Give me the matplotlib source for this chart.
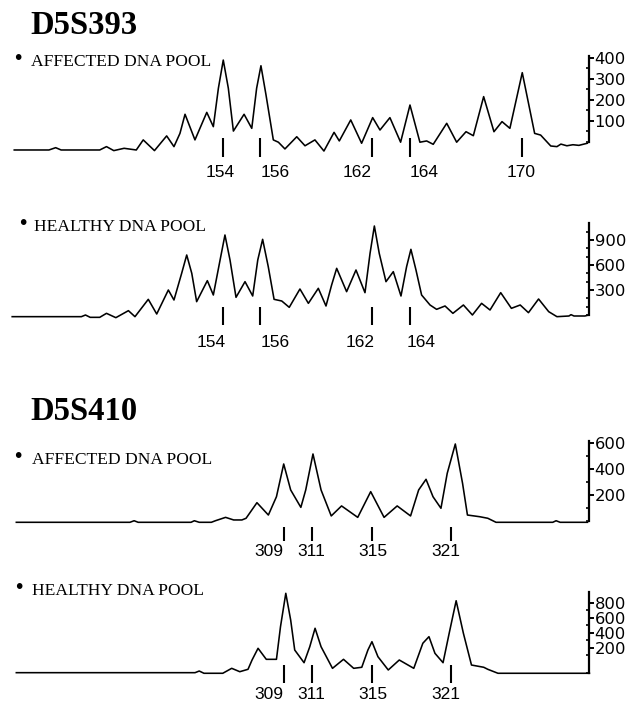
import matplotlib
matplotlib.use("Agg")
import matplotlib.pyplot as plt
from matplotlib.ticker import FixedLocator, NullFormatter

# ---------------- data ----------------
# D5S393 affected pool: fragment size (bp) and signal
d393_aff_bp = [142.89, 144.74, 145.10, 145.39, 147.45, 147.81, 148.20, 148.75, 149.40, 149.77,
               150.37, 151.02, 151.41, 151.73, 152.00, 152.53, 153.16, 153.51, 153.78, 154.04,
               154.31, 154.58, 155.15, 155.56, 155.82, 156.05, 156.32, 156.71, 156.98, 157.33,
               157.96, 158.40, 158.93, 159.41, 159.95, 160.23, 160.84, 161.42, 162.01, 162.40,
               162.93, 163.50, 164.00, 164.53, 164.89, 165.24, 165.96, 166.49, 166.99, 167.38,
               167.93, 168.48, 168.91, 169.33, 169.99, 170.65, 170.97, 171.51, 171.84, 172.05,
               172.37, 172.69, 173.01, 173.46]
d393_aff_sig = [-38, -38, -27, -38, -38, -22, -41, -30, -38, 10,
                -41, 29, -22, 41, 132, 10, 141, 73, 256, 390,
                256, 52, 132, 65, 256, 363, 224, 10, -1, -33,
                25, -18, 10, -43, 46, 5, 105, -6, 116, 57,
                116, -1, 176, -1, 5, -11, 89, -1, 49, 30,
                216, 49, 97, 65, 330, 41, 33, -19, -22, -10,
                -18, -13, -16, -6]

# D5S393 healthy pool
d393_hea_bp = [142.78, 146.47, 146.69, 146.94, 147.45, 147.81, 148.31, 148.98, 149.33, 150.04,
               150.49, 151.11, 151.41, 151.82, 152.09, 152.36, 152.62, 153.19, 153.51, 153.87,
               154.13, 154.40, 154.72, 155.20, 155.61, 155.88, 156.14, 156.44, 156.75, 157.16,
               157.56, 158.13, 158.58, 159.11, 159.52, 159.82, 160.09, 160.62, 161.12, 161.60,
               161.87, 162.10, 162.36, 162.72, 163.11, 163.52, 163.82, 164.05, 164.32, 164.62,
               165.07, 165.42, 165.87, 166.29, 166.85, 167.33, 167.82, 168.27, 168.84, 169.41,
               169.88, 170.32, 170.86, 171.40, 171.84, 172.48, 172.59, 172.75, 173.33, 173.55]
d393_hea_sig = [-20, -20, 0, -28, -28, 20, -32, 52, -20, 188,
                12, 300, 180, 500, 720, 500, 160, 412, 240, 660,
                960, 660, 212, 400, 228, 660, 908, 580, 188, 168,
                92, 312, 140, 320, 108, 360, 560, 280, 540, 268,
                740, 1068, 740, 400, 520, 228, 580, 788, 540, 240,
                120, 68, 108, 20, 120, 0, 140, 60, 268, 80,
                120, 28, 192, 40, -20, -12, 4, -12, -12, 0]

# D5S410 affected pool
d410_aff_bp = [289.82, 297.97, 298.27, 298.56, 302.35, 302.59, 302.94, 303.81, 304.10, 304.83,
               305.41, 306.00, 306.30, 307.08, 307.90, 308.48, 309.00, 309.50, 310.23, 310.58,
               311.10, 311.68, 312.41, 313.15, 314.31, 315.24, 316.20, 317.14, 318.10, 318.68,
               319.21, 319.71, 320.28, 320.73, 321.31, 321.83, 322.18, 323.06, 323.64, 324.23,
               328.30, 328.54, 328.83, 330.79]
d410_aff_sig = [-10, -10, 2, -10, -10, 2, -10, -10, 2, 28,
                8, 8, 21, 141, 46, 187, 439, 239, 105, 239,
                516, 239, 39, 116, 28, 226, 28, 116, 39, 239,
                321, 187, 98, 367, 593, 290, 46, 33, 21, -10,
                -10, 2, -10, -10]

# D5S410 healthy pool
d410_hea_bp = [289.82, 302.64, 302.94, 303.28, 304.63, 305.27, 305.85, 306.44, 306.73, 307.16,
               307.75, 308.48, 308.77, 309.15, 309.50, 309.79, 310.46, 310.87, 311.25, 311.68,
               312.50, 313.29, 314.02, 314.60, 315.04, 315.33, 315.76, 316.50, 317.29, 318.33,
               318.98, 319.42, 319.85, 320.43, 320.87, 321.37, 321.89, 322.47, 323.35, 323.64,
               324.37, 330.93]
d410_hea_sig = [-129, -129, -107, -137, -137, -71, -116, -84, 40, 196,
                49, 49, 484, 929, 573, 173, 4, 217, 463, 217,
                -71, 49, -71, -57, 173, 284, 84, -93, 40, -71,
                263, 351, 129, 4, 396, 830, 396, -27, -57, -84,
                -137, -137]

# allele markers
d393_aff_alleles = [154, 156, 162, 164, 170]
d393_hea_alleles = [154, 156, 162, 164]
d410_alleles = [309, 311, 315.3, 321]
d410_allele_labels = ["309", "311", "315", "321"]

# y-axis tick labels
ticks_393_aff = [100, 200, 300, 400]
ticks_393_hea = [300, 600, 900]
ticks_410_aff = [200, 400, 600]
ticks_410_hea = [200, 400, 600, 800]

# ---------------- layout helpers ----------------
W, H = 639, 704
fig = plt.figure(figsize=(W / 100, H / 100), dpi=100)


def make_axes(x_left, x_right, y_zero, px_per_unit, lo, hi, spine_lo, xlim):
    y_bot = y_zero - lo * px_per_unit
    y_top = y_zero - hi * px_per_unit
    ax = fig.add_axes([x_left / W, 1 - y_bot / H, (x_right - x_left) / W, (y_bot - y_top) / H])
    ax.set_xlim(*xlim)
    ax.set_ylim(lo, hi)
    ax.patch.set_visible(False)
    for s in ("left", "top", "bottom"):
        ax.spines[s].set_visible(False)
    ax.spines["right"].set_linewidth(1.6)
    ax.spines["right"].set_bounds(spine_lo, hi)
    ax.xaxis.set_visible(False)
    ax.yaxis.tick_right()
    ax.tick_params(axis="y", which="major", direction="out", length=3.5, width=1.4,
                   pad=0.5, labelsize=11.8, labelfontfamily="DejaVu Sans")
    ax.tick_params(axis="y", which="minor", direction="in", length=2.5, width=1.2)
    return ax


def panel(ax, bp, sig, majors, minors, alleles, labels, m_top, m_bot, lab_dy, lab_dx):
    ax.plot(bp, sig, color="black", lw=1.15, clip_on=False, solid_joinstyle="round")
    ax.yaxis.set_major_locator(FixedLocator(majors))
    ax.yaxis.set_minor_locator(FixedLocator(minors))
    ax.yaxis.set_minor_formatter(NullFormatter())
    ax.vlines(alleles, m_bot, m_top, color="black", lw=1.5, clip_on=False)
    for a, lab, dx in zip(alleles, labels, lab_dx):
        ax.annotate(lab, xy=(a, 0), xycoords="data", xytext=(dx, lab_dy), textcoords="offset points",
                    ha="center", va="center", fontsize=12.5, family="Liberation Sans",
                    annotation_clip=False)


def ftext(x, y, s, **kw):
    fig.text(x / W, 1 - y / H, s, **kw)


# Panel 1: D5S393 affected
ax1 = make_axes(12, 589, 142, 1 / 4.76, -45, 410, 0, (142.77, 173.55))
panel(ax1, d393_aff_bp, d393_aff_sig, ticks_393_aff, [0, 50, 150, 250, 350],
      d393_aff_alleles, [str(a) for a in d393_aff_alleles], 19, -71, -22, [-2, 11, -11, 10, -1])

# Panel 2: D5S393 healthy
ax2 = make_axes(12, 589, 315, 1 / 12.0, -40, 1110, 0, (142.77, 173.55))
panel(ax2, d393_hea_bp, d393_hea_sig, ticks_393_hea, [0, 100, 200, 400, 500, 700, 800, 1000],
      d393_hea_alleles, [str(a) for a in d393_hea_alleles], 96, -120, -20, [-8, 11, -9, 8])

# Panel 3: D5S410 affected
ax3 = make_axes(12, 589, 521, 1 / 7.7, -20, 615, 0, (289.51, 330.90))
panel(ax3, d410_aff_bp, d410_aff_sig, ticks_410_aff, [0, 100, 300, 500],
      d410_alleles, d410_allele_labels, -46, -154, -22, [-11, 0, 1, -4])

# Panel 4: D5S410 healthy
ax4 = make_axes(12, 589, 663, 1 / 13.33, -140, 946, -133, (289.51, 330.90))
panel(ax4, d410_hea_bp, d410_hea_sig, ticks_410_hea, [-133, 100, 300, 500, 700],
      d410_alleles, d410_allele_labels, -27, -267, -23, [-11, 0, 1, -4])

# Titles and pool labels
serif = "Liberation Serif"
ftext(30, 25, "D5S393", fontsize=23.5, fontweight="bold", family=serif, va="center")
ftext(30, 411, "D5S410", fontsize=23.5, fontweight="bold", family=serif, va="center")
for (bx, tx, y, s) in [(18, 31, 62, "AFFECTED DNA POOL"), (23, 34, 227, "HEALTHY DNA POOL"),
                       (18, 32, 460, "AFFECTED DNA POOL"), (19, 32, 591, "HEALTHY DNA POOL")]:
    ftext(bx, y - 3, "\u2022", fontsize=15, fontweight="bold", family=serif, va="center", ha="center")
    ftext(tx, y, s, fontsize=12.6, family=serif, va="center")

fig.savefig("out.png", dpi=100)
